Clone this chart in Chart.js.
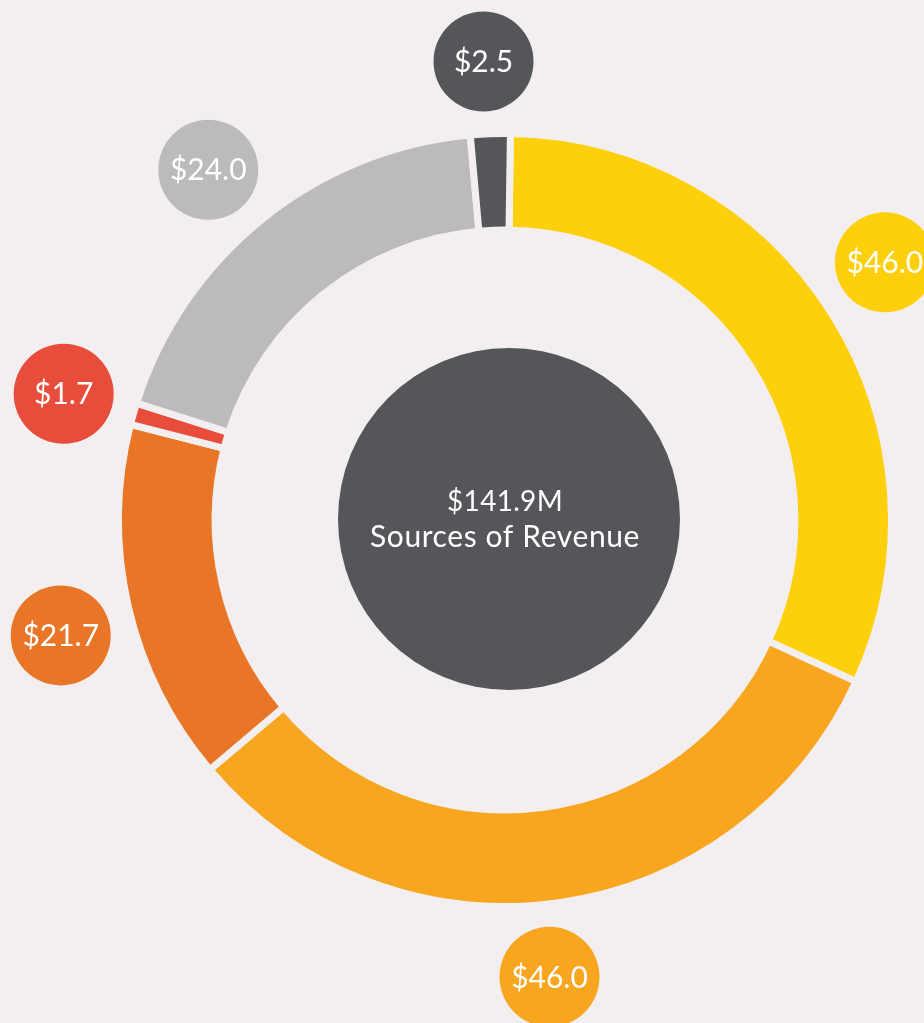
<!DOCTYPE html>
<html>
<head>
<meta charset="utf-8">
<script src="https://cdn.jsdelivr.net/npm/chart.js@4"></script>
<style>
  html, body { margin: 0; padding: 0; background: #f3eff0; }
  #wrap { width: 924px; height: 1023px; position: relative; }
</style>
</head>
<body>
<div id="wrap"><canvas id="revenueChart"></canvas></div>
<script>
// revenue sources, $M, clockwise from the top
const sources = ["Source 1", "Source 2", "Source 3", "Source 4", "Source 5", "Source 6"];
// slice sizes as they are drawn in the picture (not quite proportional to the printed values)
const sliceSizes = [44.9, 45.35, 21.5, 1.3, 26.5, 2.35];
const valueLabels = ["$46.0", "$46.0", "$21.7", "$1.7", "$24.0", "$2.5"];
const totalLabel = "$141.9M";
const centerTitle = "Sources of Revenue";

const colors = ["#fdd00b", "#f8a51f", "#e87626", "#e84c3a", "#bcbaba", "#55565a"];
const bg = "#f3eff0";
const fontFamily = "Lato, 'Open Sans', sans-serif";

// small angle tweaks (degrees) so the bubbles sit like the original
const bubbleNudge = [-1.9, 2.2, -1.6, 0, -1.5, -0.5];

const bubblesPlugin = {
  id: "bubbles",
  afterDraw(chart) {
    const ctx = chart.ctx;
    const arcs = chart.getDatasetMeta(0).data;
    if (!arcs.length) return;
    const cx = arcs[0].x;
    const cy = arcs[0].y;

    // dark disc in the middle
    ctx.save();
    ctx.fillStyle = "#55565a";
    ctx.beginPath();
    ctx.arc(cx + 4, cy - 1, 171, 0, Math.PI * 2);
    ctx.fill();
    ctx.fillStyle = "#ffffff";
    ctx.textAlign = "center";
    ctx.textBaseline = "middle";
    ctx.font = "28px " + fontFamily;
    ctx.letterSpacing = "0.3px";
    ctx.fillText(totalLabel, cx, cy - 18);
    ctx.font = "30px " + fontFamily;
    ctx.letterSpacing = "0.6px";
    ctx.fillText(centerTitle, cx, cy + 17);
    ctx.letterSpacing = "0px";

    // value bubbles around the ring
    arcs.forEach((arc, i) => {
      const mid = (arc.startAngle + arc.endAngle) / 2 + (bubbleNudge[i] * Math.PI) / 180;
      const bx = cx + 459 * Math.cos(mid);
      const by = cy + 459 * Math.sin(mid);
      ctx.fillStyle = colors[i];
      ctx.beginPath();
      ctx.arc(bx, by, 50, 0, Math.PI * 2);
      ctx.fill();
      ctx.fillStyle = "#ffffff";
      ctx.font = "30px " + fontFamily;
      ctx.fillText(valueLabels[i], bx, by + 1);
    });
    ctx.restore();
  },
};

new Chart(document.getElementById("revenueChart"), {
  type: "doughnut",
  data: {
    labels: sources,
    datasets: [
      {
        data: sliceSizes,
        backgroundColor: colors,
        borderColor: bg,
        borderWidth: 7,
        hoverOffset: 0,
      },
    ],
  },
  options: {
    responsive: true,
    maintainAspectRatio: false,
    animation: false,
    radius: 386.5,
    cutout: "75%",
    rotation: 0.8,
    layout: { padding: { left: 86, top: 17, right: 0, bottom: 0 } },
    plugins: {
      legend: { display: false },
      tooltip: { enabled: false },
    },
  },
  plugins: [bubblesPlugin],
});
</script>
</body>
</html>
